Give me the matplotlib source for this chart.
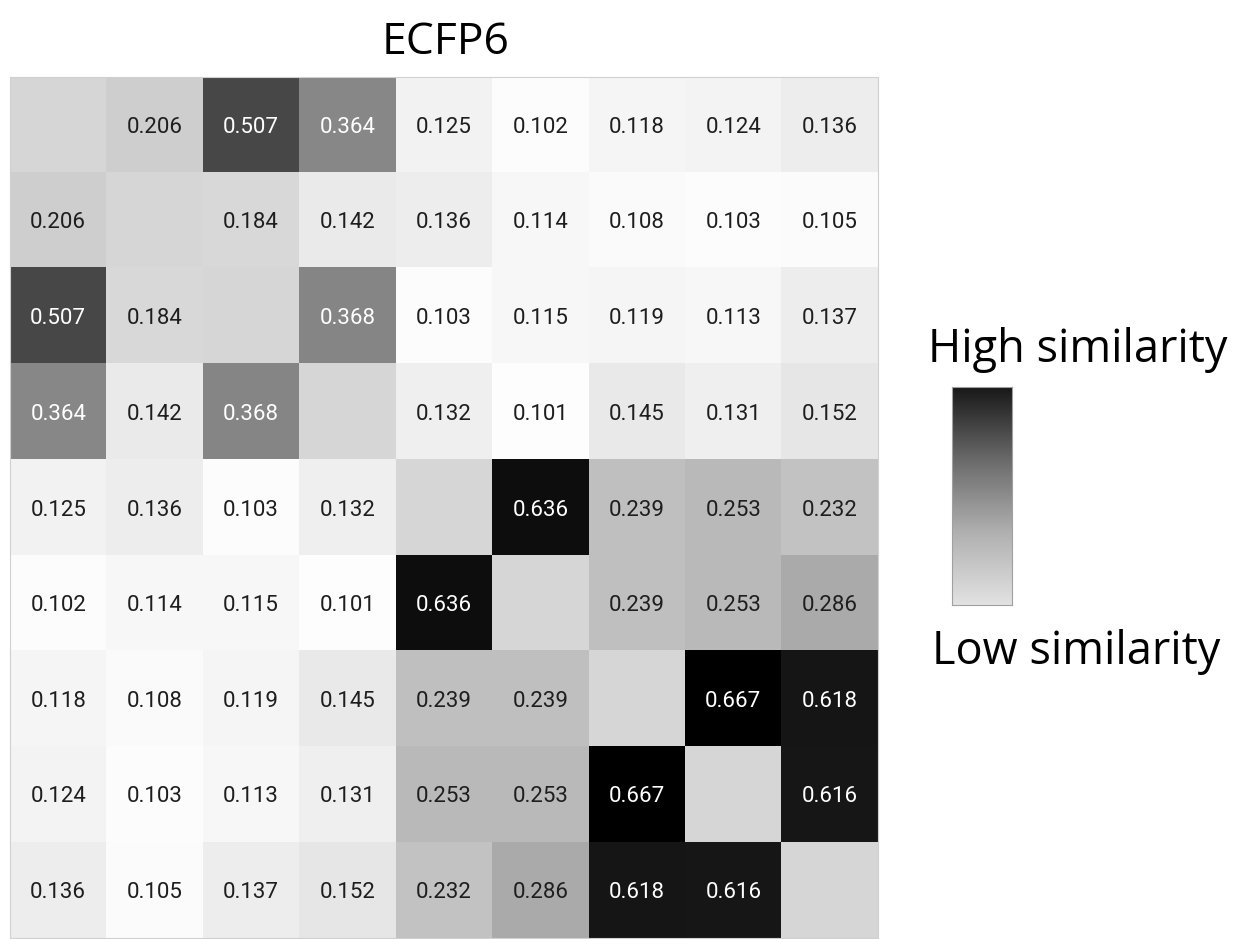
import numpy as np
import matplotlib.pyplot as plt
from matplotlib.colors import LinearSegmentedColormap

title = "ECFP6"
labels_high = "High similarity"
labels_low = "Low similarity"

# similarity matrix (diagonal left blank)
sim = np.array([
    [np.nan, 0.206, 0.507, 0.364, 0.125, 0.102, 0.118, 0.124, 0.136],
    [0.206, np.nan, 0.184, 0.142, 0.136, 0.114, 0.108, 0.103, 0.105],
    [0.507, 0.184, np.nan, 0.368, 0.103, 0.115, 0.119, 0.113, 0.137],
    [0.364, 0.142, 0.368, np.nan, 0.132, 0.101, 0.145, 0.131, 0.152],
    [0.125, 0.136, 0.103, 0.132, np.nan, 0.636, 0.239, 0.253, 0.232],
    [0.102, 0.114, 0.115, 0.101, 0.636, np.nan, 0.239, 0.253, 0.286],
    [0.118, 0.108, 0.119, 0.145, 0.239, 0.239, np.nan, 0.667, 0.618],
    [0.124, 0.103, 0.113, 0.131, 0.253, 0.253, 0.667, np.nan, 0.616],
    [0.136, 0.105, 0.137, 0.152, 0.232, 0.286, 0.618, 0.616, np.nan],
])

plt.rcParams['font.family'] = ['Open Sans', 'DejaVu Sans']

fig = plt.figure(figsize=(12.37, 9.39), dpi=100)
ax = fig.add_axes([10 / 1237, 1 - 938 / 939, 868 / 1237, 861 / 939])

cmap = plt.get_cmap('gray_r').copy()
cmap.set_bad('#d6d6d6')
ax.imshow(np.ma.masked_invalid(sim), cmap=cmap, vmin=0.095, vmax=0.667, aspect='auto')

n = sim.shape[0]
for i in range(n):
    for j in range(n):
        v = sim[i, j]
        if np.isnan(v):
            continue
        col = 'white' if v > 0.3 else '#1e1e1e'
        ax.text(j, i, f"{v:.3f}", ha='center', va='center_baseline', fontsize=16,
                color=col, family=['Roboto', 'DejaVu Sans'])

ax.set_xticks([])
ax.set_yticks([])
for s in ax.spines.values():
    s.set_color('#d0d0d0')
    s.set_linewidth(0.8)

fig.text(446 / 1237, 1 - 43 / 939, title, ha='center', va='center', fontsize=32)

# legend gradient bar
cax = fig.add_axes([952 / 1237, 1 - 605 / 939, 60 / 1237, 218 / 939])
bar_cmap = LinearSegmentedColormap.from_list('bar', ['#e2e2e2', '#b0b0b0', '#6a6a6a', '#181818'])
cax.imshow(np.linspace(0, 1, 256).reshape(-1, 1), cmap=bar_cmap, aspect='auto', origin='lower')
cax.set_xticks([])
cax.set_yticks([])
for s in cax.spines.values():
    s.set_color('#a0a0a0')
    s.set_linewidth(0.8)

fig.text(1078 / 1237, 1 - 350 / 939, labels_high, ha='center', va='center', fontsize=32.5)
fig.text(1076 / 1237, 1 - 652 / 939, labels_low, ha='center', va='center', fontsize=32.5)

fig.savefig('out.png', dpi=100, facecolor='white')
